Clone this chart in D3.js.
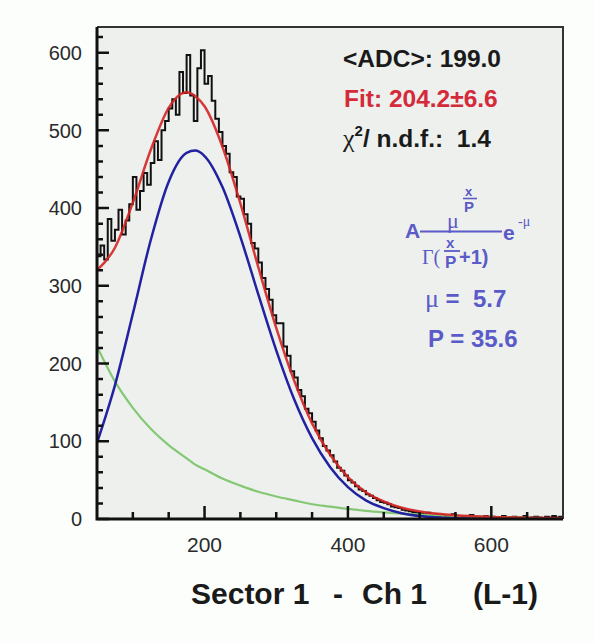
<!DOCTYPE html>
<html><head><meta charset="utf-8">
<script src="https://cdn.jsdelivr.net/npm/d3@7"></script>
<style>
html,body{margin:0;padding:0;background:#fcfefc;}
svg{display:block;}
svg text{white-space:pre;}
</style></head>
<body>
<svg id="chart" width="595" height="643"></svg>
<script>
// ---------- data ----------
const binStart = 50, binWidth = 5;
const histCounts = [
 338,352,334,386,358,372,398,366,384,405,
 440,398,422,445,430,458,486,462,500,512,
 528,540,520,575,548,597,545,512,580,603,
 560,570,538,515,498,480,470,446,440,415,
 412,392,380,355,348,330,310,296,282,262,
 252,252,222,210,190,182,166,158,142,136,
 125,114,104,94,88,82,74,66,62,56,
 50,47,42,38,36,32,30,27,24,22,
 21,19,16,15,14,12,11,10,9,8,
 7,6,8,5,6,4,5,3,4,6,
 3,4,2,3,5,2,3,1,4,2,
 3,1,2,4,1,2,3,1,2,4,
 1,2,3,2,1,3,2,4,2,3];
const fitX      = [50,75,100,125,150,175,187,200,225,250,275,300,325,350,375,400,425,450,475,500,525,550,600,650,700];
const signalVals= [98,172,264,359,434,471,474,467,427,363,289,217,154,104,67,41,24,14,7.5,3.9,2,1,0.2,0,0];
const bgVals    = [222,177,143,116,95,78,70,64,52,43,35,29,24,19,16,13,10.5,8.6,7,5.8,4.7,3.8,2.5,1.6,1.1];
const totalVals = [320,349,407,475,529,549,544,531,479,406,324,246,178,123,83,54,34.5,22.6,14.5,9.7,6.7,4.8,2.7,1.6,1.1];
const xTickLabels = [200,400,600];
const yTickLabels = [0,100,200,300,400,500,600];
const statLines = {adc:"<ADC>: 199.0", fit:"Fit: 204.2\u00B16.6", chi:"1.4"};
const params = {mu:"5.7", P:"35.6"};

// ---------- layout ----------
const svg = d3.select("#chart");
const L=97, R=563, T=27, B=519;
const x = d3.scaleLinear().domain([50,700]).range([L,R]);
const y = d3.scaleLinear().domain([0,633]).range([B,T]);

svg.append("rect").attr("x",L).attr("y",T).attr("width",R-L).attr("height",B-T).attr("fill","#edf0ed");

svg.append("defs").append("clipPath").attr("id","clip")
  .append("rect").attr("x",L).attr("y",T).attr("width",R-L).attr("height",B-T);

const g = svg.append("g").attr("clip-path","url(#clip)");

// histogram
const histPts = histCounts.map((c,i)=>[binStart+i*binWidth,c]);
histPts.push([binStart+histCounts.length*binWidth, histCounts[histCounts.length-1]]);
g.append("path").datum(histPts)
  .attr("d", d3.line().x(d=>x(d[0])).y(d=>y(d[1])).curve(d3.curveStepAfter))
  .attr("fill","none").attr("stroke","#111").attr("stroke-width",2);

const fitLine = vals => d3.line().x((d,i)=>x(fitX[i])).y(d=>y(d)).curve(d3.curveMonotoneX)(vals);
g.append("path").attr("d",fitLine(bgVals)).attr("fill","none").attr("stroke","#84c874").attr("stroke-width",2.2);
g.append("path").attr("d",fitLine(signalVals)).attr("fill","none").attr("stroke","#2222a0").attr("stroke-width",2.5);
g.append("path").attr("d",fitLine(totalVals)).attr("fill","none").attr("stroke","#d42424").attr("stroke-width",2.5).attr("stroke-opacity",0.9);

// frame top/right
svg.append("path").attr("d",`M${L},${T}H${R}V${B}`).attr("fill","none").attr("stroke","#333").attr("stroke-width",2);

// axes ticks
const yMinor = d3.range(0,634,20);
const xMinor = d3.range(100,700,50);
let tickD = "";
yMinor.forEach(d=>{ tickD += `M${L},${y(d)}h${d%100===0?12:6}`; });
xMinor.forEach(d=>{ tickD += `M${x(d)},${B}v${-(d%200===0?13:7)}`; });
svg.append("path").attr("d",tickD).attr("fill","none").attr("stroke","#111").attr("stroke-width",2.5);

svg.append("g").selectAll("text").data(yTickLabels).join("text")
  .attr("x",82).attr("y",d=>y(d)).attr("dy","0.36em").attr("text-anchor","end")
  .attr("font-family","Liberation Sans, Arial, sans-serif").attr("font-size",20).attr("fill","#2a2a2a")
  .text(d=>d);
svg.append("g").selectAll("text").data(xTickLabels).join("text")
  .attr("x",d=>x(d)).attr("y",552).attr("text-anchor","middle")
  .attr("font-family","Liberation Sans, Arial, sans-serif").attr("font-size",21).attr("fill","#2a2a2a")
  .text(d=>d);

svg.append("path").attr("d",`M${L},${T}V${B}H${R}`).attr("fill","none").attr("stroke","#111").attr("stroke-width",3);

// stats text
const sans = "Liberation Sans, Arial, sans-serif";
const serif = "Liberation Serif, Times New Roman, serif";
svg.append("text").attr("x",343).attr("y",67).attr("font-family",sans).attr("font-weight","bold")
  .attr("font-size",24.5).attr("fill","#1a1a1a").text(statLines.adc);
svg.append("text").attr("x",344).attr("y",107).attr("font-family",sans).attr("font-weight","bold")
  .attr("font-size",24.5).attr("fill","#d42a3a").text(statLines.fit);
const chi = svg.append("text").attr("x",343).attr("y",147).attr("font-family",sans).attr("font-weight","bold")
  .attr("font-size",24.5).attr("fill","#1a1a1a");
chi.append("tspan").attr("font-family",serif).attr("font-weight","normal").attr("font-size",26).text("\u03C7");
chi.append("tspan").attr("font-size",15).attr("dy",-11).text("2");
chi.append("tspan").attr("dy",11).text("/ n.d.f.:  "+statLines.chi);

// formula
const fc = "#5a5ac8";
const fg = svg.append("g").attr("fill",fc);
fg.append("text").attr("x",405).attr("y",238).attr("font-family",sans).attr("font-weight","bold").attr("font-size",21).text("A");
fg.append("line").attr("x1",420).attr("x2",502).attr("y1",231.5).attr("y2",231.5).attr("stroke",fc).attr("stroke-width",2.2);
fg.append("text").attr("x",447).attr("y",228).attr("font-family",serif).attr("font-size",22).text("\u03BC");
fg.append("text").attr("x",465).attr("y",196).attr("font-family",sans).attr("font-weight","bold").attr("font-size",13).text("x");
fg.append("line").attr("x1",463).attr("x2",477).attr("y1",198.5).attr("y2",198.5).attr("stroke",fc).attr("stroke-width",1.6);
fg.append("text").attr("x",464).attr("y",212).attr("font-family",sans).attr("font-weight","bold").attr("font-size",15).text("P");
fg.append("text").attr("x",422).attr("y",264).attr("font-family",serif).attr("font-size",20).text("\u0393(");
fg.append("text").attr("x",446).attr("y",248).attr("font-family",sans).attr("font-weight","bold").attr("font-size",15).text("x");
fg.append("line").attr("x1",444).attr("x2",460).attr("y1",251).attr("y2",251).attr("stroke",fc).attr("stroke-width",1.8);
fg.append("text").attr("x",445).attr("y",268).attr("font-family",sans).attr("font-weight","bold").attr("font-size",17).text("P");
fg.append("text").attr("x",459).attr("y",264).attr("font-family",sans).attr("font-weight","bold").attr("font-size",20).text("+1)");
fg.append("text").attr("x",503).attr("y",240).attr("font-family",sans).attr("font-weight","bold").attr("font-size",21).text("e");
fg.append("text").attr("x",518).attr("y",226).attr("font-family",serif).attr("font-size",14).text("-\u03BC");

const muT = fg.append("text").attr("x",425).attr("y",307).attr("font-family",sans).attr("font-weight","bold").attr("font-size",24);
muT.append("tspan").attr("font-family",serif).attr("font-weight","normal").attr("font-size",26).text("\u03BC");
muT.append("tspan").text(" =  "+params.mu);
fg.append("text").attr("x",428).attr("y",347).attr("font-family",sans).attr("font-weight","bold").attr("font-size",24).text("P = "+params.P);

// title
const tt = svg.append("g").attr("font-family",sans).attr("font-weight","bold").attr("font-size",30).attr("fill","#1a1a1a");
tt.append("text").attr("x",191).attr("y",604).text("Sector 1");
tt.append("text").attr("x",333).attr("y",604).text("-");
tt.append("text").attr("x",362).attr("y",604).text("Ch 1");
tt.append("text").attr("x",473).attr("y",604).text("(L-1)");
</script>
</body></html>
